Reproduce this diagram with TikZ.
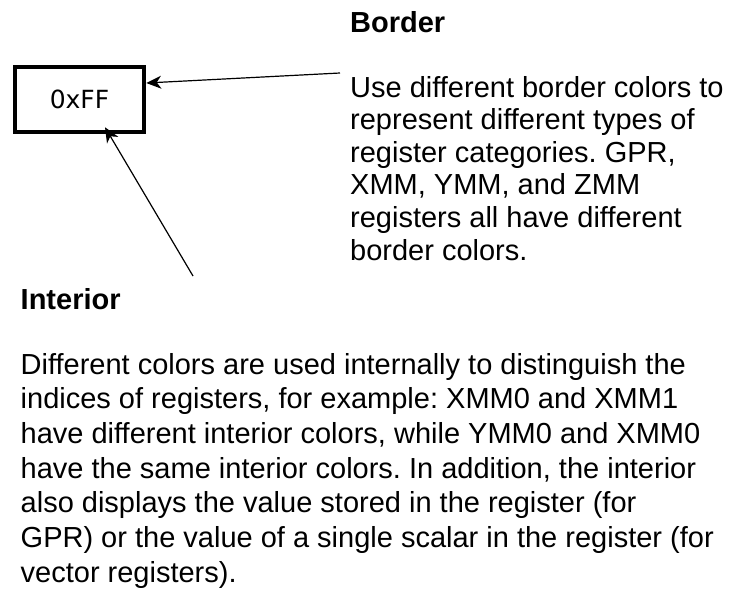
\documentclass[tikz,border=0pt]{standalone}
\usepackage{fontspec}
\setmainfont{Liberation Sans}
\newfontfamily\valfont{DejaVu Sans}
\usetikzlibrary{arrows.meta}
\frenchspacing

\begin{document}
\begin{tikzpicture}[x=1pt,y=-1pt,
  regbox/.style={draw, line width=4.5pt, minimum width=129pt, minimum height=65pt,
    inner sep=0pt, font=\valfont\fontsize{25}{29}\selectfont},
  heading/.style={anchor=base west, inner sep=0pt,
    font=\bfseries\fontsize{29}{33}\selectfont},
  sidenote/.style={anchor=base west, inner sep=0pt, align=left,
    font=\fontsize{29}{32.6}\selectfont},
  mainnote/.style={anchor=base west, inner sep=0pt, align=left,
    font=\fontsize{29}{34.7}\selectfont},
  pointer/.style={-{Stealth[length=15pt,width=13pt,inset=4.5pt]}, line width=1.2pt}]

  \useasboundingbox (0,0) rectangle (729,592);

  % register cell
  \node[regbox] (reg) at (79.5,99.5) {0xFF};

  % headings
  \node[heading] (bhead) at (350,32) {Border};
  \node[heading] (ihead) at (20.5,309) {Interior};

  % explanations (anchored at the baseline of their last line)
  \node[sidenote] (btext) at (350,260) {Use different border colors to\\
    represent different types of\\
    register categories. GPR,\\
    XMM, YMM, and ZMM\\
    registers all have different\\
    border colors.};
  \node[mainnote] (itext) at (20.5,582.2) {Different colors are used internally to distinguish the\\
    indices of registers, for example: XMM0 and XMM1\\
    have different interior colors, while YMM0 and XMM0\\
    have the same interior colors. In addition, the interior\\
    also displays the value stored in the register (for\\
    GPR) or the value of a single scalar in the register (for\\
    vector registers).};

  % pointers onto the cell
  \coordinate (bstart) at (340,73);
  \coordinate (istart) at (193,276);
  \draw[pointer] (bstart) -- ([yshift=16.5pt]reg.east);
  \draw[pointer] (istart) -- ([xshift=25.5pt,yshift=7pt]reg.south);
\end{tikzpicture}
\end{document}
